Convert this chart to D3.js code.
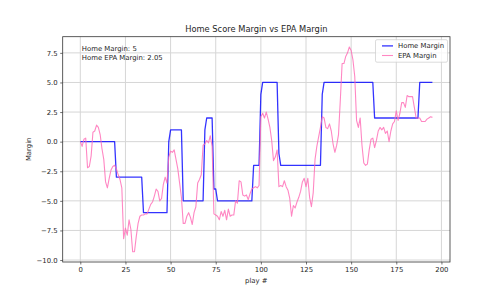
<!DOCTYPE html>
<html>
<head>
<meta charset="utf-8">
<script src="https://cdn.jsdelivr.net/npm/d3@7"></script>
<style>
  body { margin: 0; background: #fff; }
  text { font-family: "DejaVu Sans", sans-serif; fill: #262626; }
</style>
</head>
<body>
<div id="chart"></div>
<script>

// score margin of the home team after each play
var homeMargin = [
  0,0,0,0,0,0,0,0,0,0,0,0,0,0,0,0,0,0,0,0,
  -3,-3,-3,-3,-3,-3,-3,-3,-3,-3,-3,-3,-3,-3,-3,
  -6,-6,-6,-6,-6,-6,-6,-6,-6,-6,-6,-6,-6,-6,
  0,1,1,1,1,1,1,1,
  -5,-5,-5,-5,-5,-5,-5,-5,-5,-5,-5,-5,
  1,2,2,2,2,-4,-4,
  -5,-5,-5,-5,-5,-5,-5,-5,-5,-5,-5,-5,-5,-5,-5,-5,-5,-5,-5,-5,
  -2,-2,-2,-2,4,5,5,5,5,5,5,5,5,5,-1,
  -2,-2,-2,-2,-2,-2,-2,-2,-2,-2,-2,-2,-2,-2,-2,-2,-2,-2,-2,-2,-2,-2,-2,
  4,5,5,5,5,5,5,5,5,5,5,5,5,5,5,5,5,5,5,5,5,5,5,5,5,5,5,5,5,
  2,2,2,2,2,2,2,2,2,2,2,2,2,2,2,2,2,2,2,2,2,2,2,2,2,
  5,5,5,5,5,5,5,5
];

// EPA margin after each play
var epaMargin = [
  0.0,-0.4,0.2,0.3,-2.2,-2.1,-1.2,0.8,0.9,1.4,
  1.2,0.6,-0.6,-1.5,-3.4,-3.9,-3.1,-2.4,-2.1,-2.0,
  -2.3,-2.8,-3.2,-3.9,-8.2,-7.3,-7.9,-6.6,-7.4,-9.3,
  -9.3,-8.0,-6.9,-6.3,-6.2,-6.2,-6.1,-6.1,-5.7,-5.3,
  -5.1,-4.6,-4.0,-4.2,-5.0,-4.8,-3.6,-3.0,-3.5,-1.3,
  -0.8,-0.9,-0.7,-1.5,-2.3,-3.5,-4.7,-6.9,-6.9,-6.3,
  -6.0,-6.4,-7.0,-6.0,-5.5,-3.5,-3.2,-2.8,-0.3,-0.2,
  0.1,-0.1,0.5,-0.4,-6.1,-6.2,-6.3,-6.6,-5.9,-6.3,
  -5.8,-6.6,-5.7,-6.3,-6.2,-6.2,-5.0,-5.2,-3.3,-3.4,
  -4.5,-4.6,-4.5,-4.9,-4.4,-4.0,-3.9,-3.8,-3.9,-3.7,
  2.1,2.4,2.0,2.5,1.9,1.2,0.1,-1.6,-1.3,-0.7,
  -3.8,-3.7,-3.8,-3.3,-3.8,-4.1,-4.8,-6.3,-5.4,-5.6,
  -5.1,-4.7,-4.2,-3.4,-3.1,-3.8,-3.1,-4.7,-5.5,-4.3,
  -1.5,-0.4,0.4,1.2,2.1,2.0,1.2,1.1,1.5,0.9,
  -0.2,-0.9,-0.3,0.6,3.5,6.6,6.6,7.2,7.5,8.0,
  7.7,6.9,5.5,1.8,1.2,2.0,-0.3,-1.8,-2.0,-1.9,
  -0.7,0.2,0.3,-0.5,0.1,0.9,1.2,1.0,1.2,0.7,
  0.9,0.0,0.9,1.5,1.7,2.6,1.8,2.4,3.3,3.3,
  2.9,3.9,3.8,3.8,3.8,2.9,2.0,2.0,2.0,1.7,
  1.7,1.7,1.9,2.0,2.1,2.05
];

var xTicks = [0, 25, 50, 75, 100, 125, 150, 175, 200];
var yTicks = [-10, -7.5, -5, -2.5, 0, 2.5, 5, 7.5];
var seriesNames = ["Home Margin", "EPA Margin"];
var seriesColors = ["#0000ff", "#ff69b4"];

var width = 500, height = 300;
var margin = {top: 36.7, right: 50, bottom: 38, left: 62.7};
var innerW = width - margin.left - margin.right,
    innerH = height - margin.top - margin.bottom;

var plays = d3.range(homeMargin.length);

function padded(ext) {
    var pad = (ext[1] - ext[0]) * 0.05;
    return [ext[0] - pad, ext[1] + pad];
}

var x = d3.scaleLinear()
    .domain(padded(d3.extent(plays)))
    .range([0, innerW]);

var y = d3.scaleLinear()
    .domain(padded(d3.extent(homeMargin.concat(epaMargin))))
    .range([innerH, 0]);

var svg = d3.select("#chart").append("svg")
    .attr("width", width)
    .attr("height", height);

var g = svg.append("g")
    .attr("transform", "translate(" + margin.left + "," + margin.top + ")");

// grid
g.append("g").selectAll("line").data(xTicks).join("line")
    .attr("x1", d => x(d)).attr("x2", d => x(d))
    .attr("y1", 0).attr("y2", innerH)
    .style("stroke", "#d6d6d6").style("stroke-width", 1);
g.append("g").selectAll("line").data(yTicks).join("line")
    .attr("x1", 0).attr("x2", innerW)
    .attr("y1", d => y(d)).attr("y2", d => y(d))
    .style("stroke", "#d6d6d6").style("stroke-width", 1);

var clip = g.append("clipPath").attr("id", "plotClip")
    .append("rect").attr("width", innerW).attr("height", innerH);

var line = d3.line()
    .x(d => x(d[0]))
    .y(d => y(d[1]));

var series = [homeMargin, epaMargin];
series.forEach(function(vals, k) {
    g.append("path")
        .datum(plays.map(i => [i, vals[i]]))
        .attr("clip-path", "url(#plotClip)")
        .attr("d", line)
        .style("fill", "none")
        .style("stroke", seriesColors[k])
        .style("stroke-opacity", 0.8)
        .style("stroke-width", k == 0 ? 1.3 : 1.1)
        .style("stroke-linejoin", "round");
});

// axes
var fmtY = d3.format(".1f");
var xAxis = g.append("g")
    .attr("transform", "translate(0," + innerH + ")")
    .call(d3.axisBottom(x).tickValues(xTicks).tickSize(2.5).tickPadding(2.5).tickSizeOuter(0));
var yAxis = g.append("g")
    .call(d3.axisLeft(y).tickValues(yTicks).tickFormat(fmtY).tickSize(2.5).tickPadding(2.5).tickSizeOuter(0));

[xAxis, yAxis].forEach(function(a) {
    a.select(".domain").remove();
    a.selectAll(".tick line").style("stroke", "#333").style("stroke-width", 0.7);
    a.selectAll(".tick text")
        .style("font-family", "DejaVu Sans")
        .style("font-size", "6.9px")
        .style("fill", "#262626");
});

g.append("rect")
    .attr("width", innerW).attr("height", innerH)
    .style("fill", "none")
    .style("stroke", "#333")
    .style("stroke-width", 0.8);

// title and axis labels
svg.append("text")
    .attr("x", margin.left + innerW / 2)
    .attr("y", 32)
    .attr("text-anchor", "middle")
    .style("font-size", "8.3px")
    .text("Home Score Margin vs EPA Margin");

svg.append("text")
    .attr("x", margin.left + innerW / 2)
    .attr("y", 283)
    .attr("text-anchor", "middle")
    .style("font-size", "6.9px")
    .text("play #");

svg.append("text")
    .attr("transform", "translate(31," + (margin.top + innerH / 2) + ") rotate(-90)")
    .attr("text-anchor", "middle")
    .style("font-size", "6.9px")
    .text("Margin");

// annotation with latest values
var last = homeMargin.length - 1;
var note = g.append("text")
    .attr("x", x(0) + 1.5)
    .attr("y", 14.8)
    .style("font-size", "6.9px");
note.append("tspan").attr("x", x(0) + 1.5).text("Home Margin: " + homeMargin[last]);
note.append("tspan").attr("x", x(0) + 1.5).attr("dy", 8.6).text("Home EPA Margin: " + epaMargin[last]);

// legend
var legend = g.append("g")
    .attr("transform", "translate(" + (innerW - 74.5) + ",3)");
legend.append("rect")
    .attr("width", 72).attr("height", 22.5)
    .attr("rx", 1.5)
    .style("fill", "#fff").style("fill-opacity", 0.8)
    .style("stroke", "#cccccc").style("stroke-width", 0.7);
seriesNames.forEach(function(name, k) {
    var row = legend.append("g").attr("transform", "translate(0," + (6.2 + k * 9.6) + ")");
    row.append("line")
        .attr("x1", 6.5).attr("x2", 17.5)
        .style("stroke", seriesColors[k])
        .style("stroke-opacity", 0.8)
        .style("stroke-width", k == 0 ? 1.3 : 1.1);
    row.append("text")
        .attr("x", 22.5).attr("y", 2.4)
        .style("font-size", "6.9px")
        .text(name);
});

</script>
</body>
</html>
